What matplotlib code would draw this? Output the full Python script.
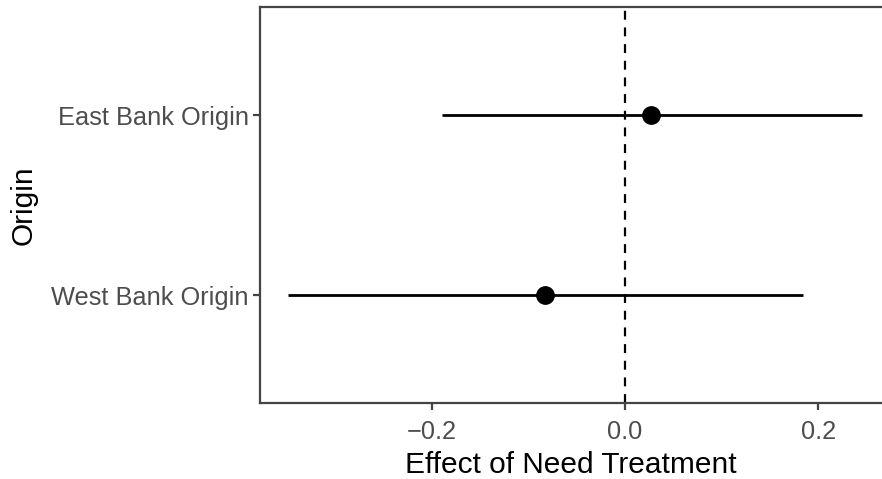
import matplotlib
matplotlib.use("Agg")
import matplotlib.pyplot as plt

# Estimates
origins = ["West Bank Origin", "East Bank Origin"]
estimates = [-0.083, 0.027]
ci_low = [-0.349, -0.190]
ci_high = [0.184, 0.245]

plt.rcParams["font.family"] = ["Liberation Sans", "DejaVu Sans"]

fig = plt.figure(figsize=(8.82, 4.79), dpi=100)
ax = fig.add_axes([260 / 882, 76 / 479, 622 / 882, 396 / 479])

ypos = list(range(len(origins)))
ax.axvline(0, color="black", linestyle=(0, (4, 3.5)), linewidth=1.6, zorder=1)
ax.hlines(ypos, ci_low, ci_high, color="black", linewidth=2.0, zorder=2)
ax.plot(estimates, ypos, "o", color="black", markersize=12.5, zorder=3)

ax.set_xlim(-0.378, 0.266)
ax.set_ylim(-0.6, 1.6)
ax.set_xticks([-0.2, 0.0, 0.2])
ax.set_xticklabels(["\u22120.2", "0.0", "0.2"])
ax.set_yticks(ypos)
ax.set_yticklabels(origins)

for side in ["left", "bottom", "top"]:
    ax.spines[side].set_color("#444444")
    ax.spines[side].set_linewidth(1.6)
ax.spines["right"].set_visible(False)

ax.tick_params(axis="both", length=5, width=1.6, color="#444444",
               labelcolor="#4d4d4d", labelsize=18.3)
ax.tick_params(axis="x", pad=7)
ax.tick_params(axis="y", pad=3)

ax.set_xlabel("Effect of Need Treatment", fontsize=21.5, color="black", labelpad=5)
ax.set_ylabel("Origin", fontsize=21.5, color="black", labelpad=10)

fig.savefig("out.png", dpi=100)
